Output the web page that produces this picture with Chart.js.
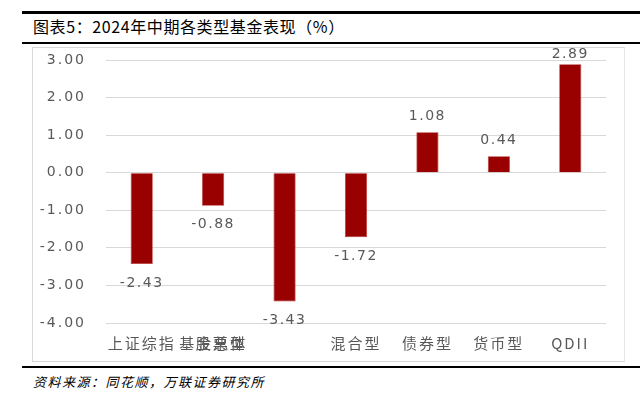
<!DOCTYPE html>
<html>
<head>
<meta charset="utf-8">
<script src="https://cdn.jsdelivr.net/npm/chart.js@4"></script>
<style>
  body { margin: 0; width: 640px; height: 399px; background: #fff; position: relative; overflow: hidden; }
  .rule-top { position: absolute; left: 22px; right: 0; top: 11px; height: 3px; background: #000; }
  .rule-mid { position: absolute; left: 22px; right: 0; top: 42px; height: 2px; background: #000; }
  .rule-bot { position: absolute; left: 22px; right: 0; top: 366px; height: 2px; background: #000; }
  .title { position: absolute; left: 33px; top: 14px; font: 16px "Noto Sans CJK SC", sans-serif; letter-spacing: 0.6px; color: #000; }
  .source { position: absolute; left: 33px; top: 372px; font: italic 13px "Noto Sans CJK SC", sans-serif; letter-spacing: 1.5px; color: #000; }
  .box { position: absolute; left: 32px; top: 47px; width: 591px; height: 313px; border: 1px solid #d9d9d9; border-right-color: #e6e6e6; }
  canvas { display: block; }
</style>
</head>
<body>
<div class="rule-top"></div>
<div class="title">图表5：2024年中期各类型基金表现（%）</div>
<div class="rule-mid"></div>
<div class="box"><canvas id="fundChart" width="591" height="313"></canvas></div>
<div class="rule-bot"></div>
<div class="source">资料来源：同花顺，万联证券研究所</div>
<script>
  var categories = ['上证综指', '基金总体', '股票型', '混合型', '债券型', '货币型', 'QDII'];
  var returns = [-2.43, -0.88, -3.43, -1.72, 1.08, 0.44, 2.89];
  var yMin = -4;
  var yMax = 3;

  // wider number spacing, like the original's CJK font
  var spacing = {
    id: 'spacing',
    beforeDraw: function (chart) { chart.ctx.letterSpacing = '2px'; }
  };

  // value labels: below negative bars, above positive ones
  var valueLabels = {
    id: 'valueLabels',
    afterDatasetsDraw: function (chart) {
      var ctx = chart.ctx;
      var meta = chart.getDatasetMeta(0);
      ctx.save();
      ctx.font = '14px "DejaVu Sans", sans-serif';
      ctx.letterSpacing = '1.5px';
      ctx.fillStyle = '#595959';
      ctx.textAlign = 'center';
      ctx.textBaseline = 'middle';
      meta.data.forEach(function (bar, i) {
        var v = returns[i];
        var y = v < 0 ? bar.y + 19 : bar.y - 16;
        if (y < 6) y = 6;
        ctx.fillText(v.toFixed(2), bar.x, y);
      });
      ctx.restore();
    }
  };

  // category labels along the bottom of the plot (the third one sits under the second, as in the source)
  var categoryLabels = {
    id: 'categoryLabels',
    afterDraw: function (chart) {
      var ctx = chart.ctx;
      var xs = chart.scales.x;
      var y = chart.chartArea.bottom + 20;
      ctx.save();
      ctx.font = '15px "Noto Sans CJK SC", sans-serif';
      ctx.letterSpacing = '2px';
      ctx.fillStyle = '#595959';
      ctx.textAlign = 'center';
      ctx.textBaseline = 'middle';
      categories.forEach(function (c, i) {
        var x = xs.getPixelForValue(i);
        if (i === 2) x = xs.getPixelForValue(1) + 8;
        ctx.fillText(c, x, y);
      });
      ctx.restore();
    }
  };

  var ctx1 = document.getElementById('fundChart').getContext('2d');
  var fundChart = new Chart(ctx1, {
    type: 'bar',
    data: {
      labels: categories,
      datasets: [{
        data: returns,
        backgroundColor: '#990000',
        borderColor: '#b83030',
        borderWidth: 0.75,
        barPercentage: 0.31,
        categoryPercentage: 1
      }]
    },
    options: {
      responsive: false,
      animation: false,
      layout: { padding: { left: 0, right: 18, top: 12, bottom: 38 } },
      plugins: {
        legend: { display: false },
        tooltip: { enabled: false }
      },
      scales: {
        x: { display: false },
        y: {
          min: yMin,
          max: yMax,
          afterFit: function (axis) {
            axis.width = 73;
            axis.paddingTop = 0;
            axis.paddingBottom = 0;
          },
          ticks: {
            stepSize: 1,
            padding: 20,
            color: '#595959',
            font: { size: 14, family: '"DejaVu Sans", sans-serif' },
            callback: function (v) { return Number(v).toFixed(2); }
          },
          grid: { color: '#d9d9d9', drawTicks: false },
          border: { display: false }
        }
      }
    },
    plugins: [spacing, valueLabels, categoryLabels]
  });
</script>
</body>
</html>
